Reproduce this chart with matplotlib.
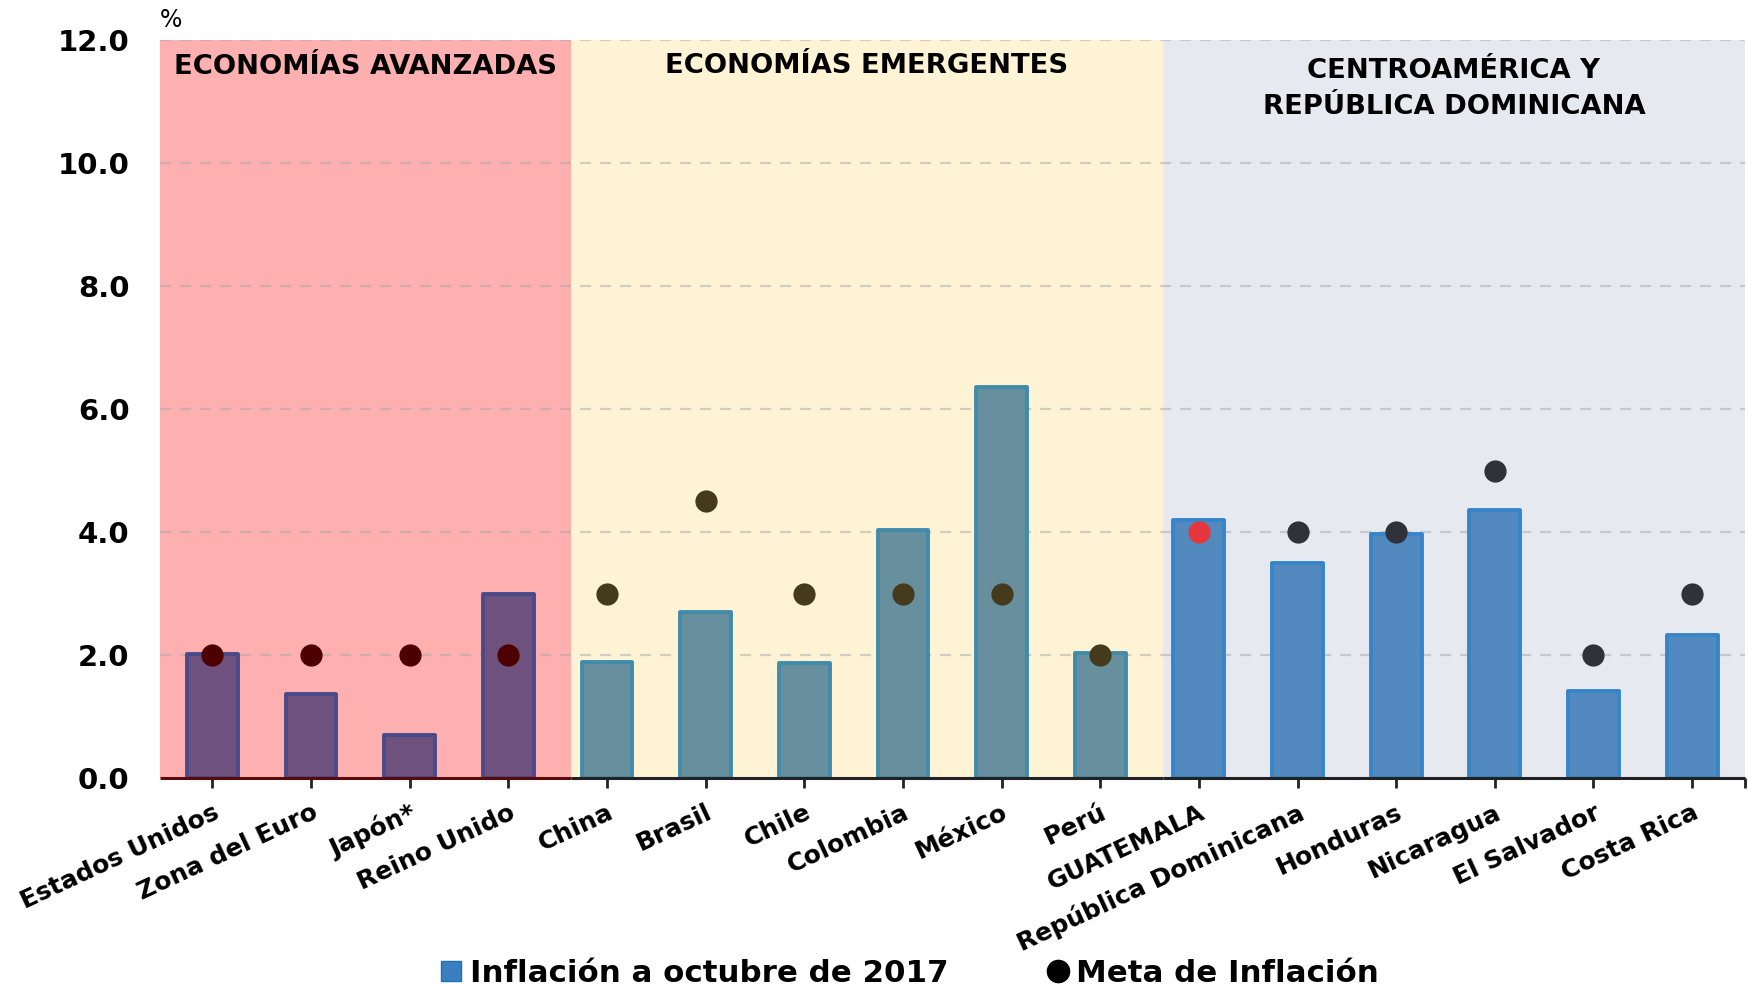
import matplotlib
matplotlib.use("Agg")
import matplotlib.pyplot as plt
from matplotlib.lines import Line2D

plt.rcParams['font.family'] = ['DejaVu Sans']

# ---------------- data ----------------
categorias = ["Estados Unidos", "Zona del Euro", "Japón*", "Reino Unido",
              "China", "Brasil", "Chile", "Colombia", "México", "Perú",
              "GUATEMALA", "República Dominicana", "Honduras", "Nicaragua",
              "El Salvador", "Costa Rica"]
inflacion = [2.02, 1.37, 0.70, 2.99, 1.89, 2.70, 1.87, 4.03, 6.35, 2.03,
             4.20, 3.49, 3.96, 4.36, 1.42, 2.32]
meta = [2.0, 2.0, 2.0, 2.0, 3.0, 4.5, 3.0, 3.0, 3.0, 2.0,
        4.0, 4.0, 4.0, 5.0, 2.0, 3.0]
grupo = [0, 0, 0, 0, 1, 1, 1, 1, 1, 1, 2, 2, 2, 2, 2, 2]
grupos = ["ECONOMÍAS AVANZADAS", "ECONOMÍAS EMERGENTES",
          "CENTROAMÉRICA Y\nREPÚBLICA DOMINICANA"]
yticks = [0.0, 2.0, 4.0, 6.0, 8.0, 10.0, 12.0]
leyenda = ["Inflación a octubre de 2017", "Meta de Inflación"]

# ---------------- styles ----------------
bg_colors = ["#FEAFAF", "#FFF3D5", "#E6E9EF"]
bar_face = ["#6E527D", "#688F9E", "#5289BE"]
bar_edge = ["#4A4A8A", "#418CAA", "#3785C8"]
dot_colors = ["#4D0000", "#453A1C", "#2F3238"]
dot_special = {"GUATEMALA": "#E5363E"}
axis_colors = ["#5A0A0A", "#222222", "#222222"]

fig = plt.figure(figsize=(17.48, 9.89), dpi=100)
ax = fig.add_axes([160 / 1748, 1 - 778 / 989, (1745 - 160) / 1748, (778 - 40) / 989])

x0, x1 = -0.531, 15.536
bounds = [x0, 3.637, 9.635, x1]
ax.set_xlim(x0, x1)
ax.set_ylim(0, 12)

# background regions
for i in range(3):
    ax.axvspan(bounds[i], bounds[i + 1], ymin=0, ymax=1, color=bg_colors[i], zorder=0, lw=0)

# grid
for yv in yticks[1:]:
    ax.axhline(yv, color="#A8A8A8", alpha=0.5, lw=1.6, ls=(0, (5, 4)), zorder=1)

xs = list(range(len(categorias)))
for i, (x, v, g) in enumerate(zip(xs, inflacion, grupo)):
    ax.bar(x, v, width=0.515, color=bar_face[g], edgecolor=bar_edge[g],
           linewidth=2.8, zorder=2, joinstyle="round")

for x, m, g, c in zip(xs, meta, grupo, categorias):
    ax.plot(x, m, marker="o", markersize=16, linestyle="none",
            color=dot_special.get(c, dot_colors[g]), markeredgewidth=0, zorder=3)

# x axis line per region
for i in range(3):
    ax.plot([bounds[i], bounds[i + 1]], [0, 0], color=axis_colors[i], lw=2.2,
            zorder=4, solid_capstyle="butt", clip_on=False)

for s in ax.spines.values():
    s.set_visible(False)

ax.set_xticks(xs)
ax.set_xticks([x1], minor=True)
ax.set_xticklabels(categorias, rotation=25, ha="right", rotation_mode="anchor",
                   fontsize=18, fontweight="bold")
ax.tick_params(axis="x", which="both", length=7, width=2, color="#222222", pad=9)
ax.set_yticks(yticks)
ax.set_yticklabels([f"{v:.1f}" for v in yticks], fontsize=21, fontweight="bold")
ax.tick_params(axis="y", length=0, pad=22)

# group titles
ax.text((bounds[0] + bounds[1]) / 2, 11.56, grupos[0], ha="center", va="center",
        fontsize=19.7, fontweight="bold")
ax.text((bounds[1] + bounds[2]) / 2, 11.58, grupos[1], ha="center", va="center",
        fontsize=19.7, fontweight="bold")
ax.text((bounds[2] + bounds[3]) / 2, 11.21, grupos[2], ha="center", va="center",
        fontsize=19.7, fontweight="bold", linespacing=1.5)

fig.text(160 / 1748, 1 - 20 / 989, "%", ha="left", va="center", fontsize=17)

handles = [Line2D([], [], marker="s", color="#3A7FC0", markeredgecolor="#1F6FC0",
                  linestyle="none", markersize=14),
           Line2D([], [], marker="o", color="black", linestyle="none", markersize=16)]
fig.legend(handles, leyenda, loc="center", bbox_to_anchor=(0.52, 0.016), ncol=2,
           frameon=False, prop={"size": 22.2, "weight": "bold"}, handlelength=0.8,
           handletextpad=0.2, columnspacing=3.15, borderpad=0, borderaxespad=0)

fig.savefig("out.png", dpi=100)
